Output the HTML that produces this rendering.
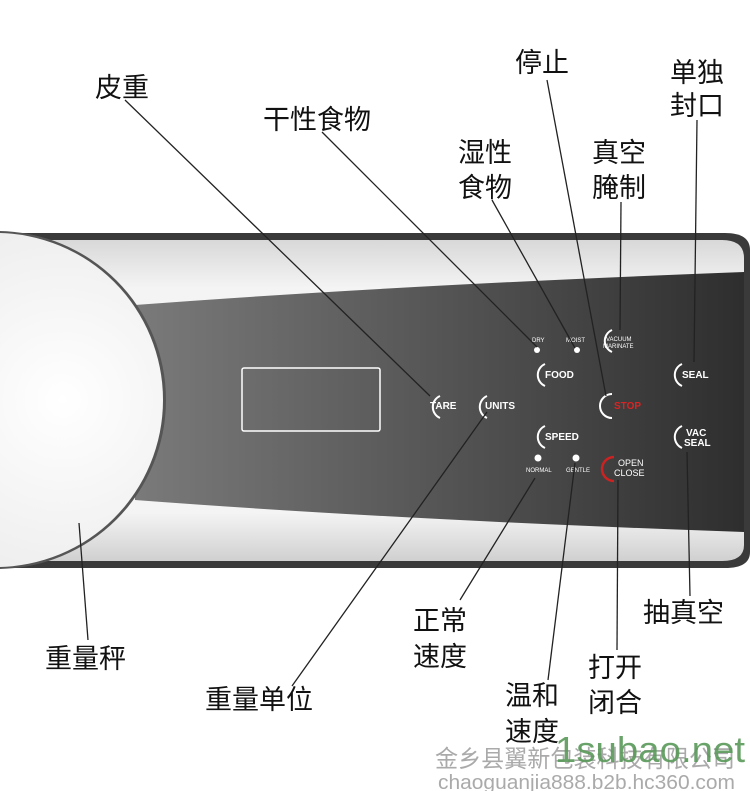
<!DOCTYPE html>
<html><head><meta charset="utf-8"><style>
html,body{margin:0;padding:0;background:#fff;width:750px;height:791px;overflow:hidden}
svg{display:block}
.l{font-family:"Liberation Sans","Noto Sans CJK SC",sans-serif;font-size:27px;fill:#111}
.b{font-family:"Liberation Sans",sans-serif;font-size:10px;fill:#fff;font-weight:bold}
.s{font-family:"Liberation Sans",sans-serif;font-size:6px;fill:#fff}
</style></head><body>
<svg width="750" height="791" viewBox="0 0 750 791" xmlns="http://www.w3.org/2000/svg">
<defs>
<linearGradient id="pg" x1="0" x2="1" y1="0" y2="0">
<stop offset="0" stop-color="#7a7a7a"/><stop offset="0.5" stop-color="#555"/><stop offset="1" stop-color="#2e2e2e"/></linearGradient>
<linearGradient id="sil" x1="0" x2="0" y1="0" y2="1">
<stop offset="0" stop-color="#d8d8d8"/><stop offset="0.15" stop-color="#f4f4f4"/><stop offset="0.85" stop-color="#f4f4f4"/><stop offset="1" stop-color="#d0d0d0"/></linearGradient>
<radialGradient id="cg" cx="0.7" cy="0.5" r="0.8"><stop offset="0" stop-color="#fff"/><stop offset="1" stop-color="#e6e6e6"/></radialGradient>
</defs>
<path d="M0 233 H725 Q750 233 750 250 V552 Q750 568 725 568 H0 Z" fill="#3a3a3a"/>
<path d="M0 240 H722 Q744 240 744 258 V545 Q744 561 722 561 H0 Z" fill="url(#sil)"/>
<path d="M135 305 Q400 285 744 272 V532 Q400 520 135 500 Z" fill="url(#pg)"/>
<circle cx="-3" cy="400" r="169" fill="#555"/>
<circle cx="-4" cy="400" r="167" fill="url(#cg)"/>
<rect x="242" y="368" width="138" height="63" rx="2" fill="none" stroke="#fff" stroke-width="1.5"/>
<g fill="none" stroke="#fff" stroke-width="2">
<path d="M440 396 A12 12 0 0 0 440 418"/>
<path d="M487 396 A12 12 0 0 0 487 418"/>
<path d="M545 364 A12 12 0 0 0 545 386"/>
<path d="M545 426 A12 12 0 0 0 545 448"/>
<path d="M612 330 A12 12 0 0 0 612 352"/>
<path d="M682 364 A12 12 0 0 0 682 386"/>
<path d="M682 426 A12 12 0 0 0 682 448"/>
<path d="M612 394 A12 12 0 0 0 612 418"/>
</g>
<path d="M614 457 A12 12 0 0 0 614 481" fill="none" stroke="#c22" stroke-width="2.5"/>
<text class="b" x="430" y="409">TARE</text>
<text class="b" x="485" y="409">UNITS</text>
<text class="b" x="545" y="378">FOOD</text>
<text class="b" x="545" y="440">SPEED</text>
<text class="b" x="614" y="409" style="fill:#d22">STOP</text>
<text class="b" x="682" y="378">SEAL</text>
<text class="b" x="686" y="436">VAC</text><text class="b" x="684" y="446">SEAL</text>
<text class="b" x="618" y="466" style="font-weight:normal;font-size:9px">OPEN</text><text class="b" x="614" y="476" style="font-weight:normal;font-size:9px">CLOSE</text>
<text class="s" x="606" y="341">VACUUM</text><text class="s" x="603" y="348">MARINATE</text>
<text class="s" x="532" y="342">DRY</text><text class="s" x="566" y="342">MOIST</text>
<circle cx="537" cy="350" r="3" fill="#fff"/><circle cx="577" cy="350" r="3" fill="#fff"/>
<circle cx="538" cy="458" r="3.5" fill="#fff"/><circle cx="576" cy="458" r="3.5" fill="#fff"/>
<text class="s" x="526" y="472">NORMAL</text><text class="s" x="566" y="472">GENTLE</text>
<g stroke="#222" stroke-width="1.3" fill="none">
<line x1="125" y1="100" x2="430" y2="396"/>
<line x1="322" y1="132" x2="537" y2="347"/>
<line x1="492" y1="200" x2="575" y2="348"/>
<line x1="547" y1="80" x2="606" y2="396"/>
<line x1="621" y1="202" x2="620" y2="330"/>
<line x1="697" y1="120" x2="694" y2="362"/>
<line x1="687" y1="452" x2="690" y2="596"/>
<line x1="618" y1="480" x2="617" y2="650"/>
<line x1="575" y1="463" x2="548" y2="680"/>
<line x1="535" y1="478" x2="460" y2="600"/>
<line x1="487" y1="412" x2="292" y2="686"/>
<line x1="79" y1="523" x2="88" y2="640"/>
</g>
<text class="l" x="95" y="97">皮重</text>
<text class="l" x="263" y="129">干性食物</text>
<text class="l" x="458" y="162">湿性</text><text class="l" x="458" y="197">食物</text>
<text class="l" x="515" y="72">停止</text>
<text class="l" x="592" y="162">真空</text><text class="l" x="592" y="197">腌制</text>
<text class="l" x="670" y="82">单独</text><text class="l" x="670" y="115">封口</text>
<text class="l" x="643" y="622">抽真空</text>
<text class="l" x="588" y="677">打开</text><text class="l" x="588" y="712">闭合</text>
<text class="l" x="505" y="705">温和</text><text class="l" x="505" y="741">速度</text>
<text class="l" x="413" y="630">正常</text><text class="l" x="413" y="666">速度</text>
<text class="l" x="205" y="709">重量单位</text>
<text class="l" x="45" y="668">重量秤</text>
<text x="435" y="767" textLength="300" lengthAdjust="spacingAndGlyphs" style="font-family:'Liberation Sans','Noto Sans CJK SC',sans-serif;font-size:24px;fill:#aaa">金乡县翼新包装科技有限公司</text>
<text x="555" y="762" textLength="190" lengthAdjust="spacingAndGlyphs" style="font-family:'Liberation Sans',sans-serif;font-size:36px;fill:#5a9a5a;opacity:.9">1subao.net</text>
<text x="438" y="789" textLength="297" lengthAdjust="spacingAndGlyphs" style="font-family:'Liberation Sans',sans-serif;font-size:20px;fill:#aaa">chaoguanjia888.b2b.hc360.com</text>
</svg>
</body></html>
